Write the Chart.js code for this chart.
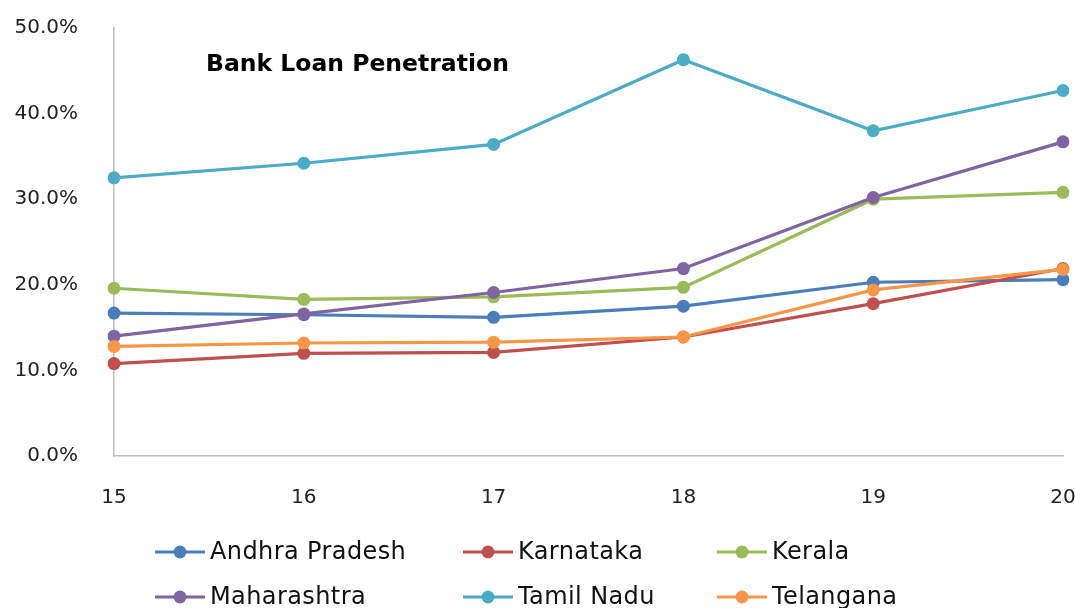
<!DOCTYPE html>
<html>
<head>
<meta charset="utf-8">
<script src="https://cdn.jsdelivr.net/npm/chart.js@4.4.1/dist/chart.umd.min.js"></script>
<style>
  html, body { margin: 0; padding: 0; background: #ffffff; }
  #wrap { width: 1075px; height: 608px; position: relative; }
</style>
</head>
<body>
<div id="wrap"><canvas id="c"></canvas></div>
<script>
// ---- data ----
const categories = ['15', '16', '17', '18', '19', '20'];
const seriesNames = ['Andhra Pradesh', 'Karnataka', 'Kerala', 'Maharashtra', 'Tamil Nadu', 'Telangana'];
const andhraPradesh = [16.7, 16.5, 16.2, 17.5, 20.3, 20.6];
const karnataka     = [10.8, 12.0, 12.1, 13.9, 17.8, 21.9];
const kerala        = [19.6, 18.3, 18.6, 19.7, 30.0, 30.8];
const maharashtra   = [14.0, 16.6, 19.1, 21.9, 30.2, 36.7];
const tamilNadu     = [32.5, 34.2, 36.4, 46.3, 38.0, 42.7];
const telangana     = [12.8, 13.2, 13.3, 13.9, 19.4, 21.8];
const yTicks = [0, 10, 20, 30, 40, 50];
const chartTitle = 'Bank Loan Penetration';

const seriesValues = [andhraPradesh, karnataka, kerala, maharashtra, tamilNadu, telangana];
const colors = ['#4a7ebb', '#c0504d', '#9bbb59', '#8064a2', '#4bacc6', '#f79646'];

const FONT = '"DejaVu Sans", sans-serif';

const datasets = seriesNames.map((name, i) => ({
  label: name,
  data: seriesValues[i],
  borderColor: colors[i],
  backgroundColor: colors[i],
  pointBackgroundColor: colors[i],
  pointBorderColor: colors[i],
  pointRadius: 6.5,
  pointHoverRadius: 6.5,
  pointBorderWidth: 0,
  borderWidth: 3.2,
  tension: 0,
  order: seriesNames.length - i
}));

// custom in-plot title + column legend
const decorPlugin = {
  id: 'decor',
  afterDraw(chart, args, opts) {
    const ctx = chart.ctx;
    ctx.save();
    // title
    ctx.font = 'bold 23.5px ' + FONT;
    ctx.fillStyle = '#000000';
    ctx.textAlign = 'left';
    ctx.textBaseline = 'alphabetic';
    ctx.fillText(chartTitle, opts.titleX, opts.titleY);
    // legend
    const ds = chart.data.datasets;
    ctx.font = '24px ' + FONT;
    if ('letterSpacing' in ctx) ctx.letterSpacing = '0.4px';
    ctx.textBaseline = 'middle';
    ds.forEach((d, i) => {
      const col = i % opts.cols.length;
      const row = Math.floor(i / opts.cols.length);
      const x = opts.cols[col];
      const y = opts.rows[row];
      ctx.strokeStyle = d.borderColor;
      ctx.lineWidth = 3.2;
      ctx.beginPath();
      ctx.moveTo(x, y);
      ctx.lineTo(x + opts.lineLen, y);
      ctx.stroke();
      ctx.fillStyle = d.borderColor;
      ctx.beginPath();
      ctx.arc(x + opts.lineLen / 2, y, 6.5, 0, Math.PI * 2);
      ctx.fill();
      ctx.fillStyle = '#111111';
      ctx.fillText(d.label, x + opts.lineLen + 5, y + 1);
    });
    ctx.restore();
  }
};

new Chart(document.getElementById('c'), {
  type: 'line',
  data: { labels: categories, datasets: datasets },
  plugins: [decorPlugin],
  options: {
    responsive: true,
    maintainAspectRatio: false,
    animation: false,
    layout: { autoPadding: false, padding: { top: 28, right: 12, bottom: 98, left: 0 } },
    plugins: {
      legend: { display: false },
      title: { display: false },
      tooltip: { enabled: false },
      decor: {
        titleX: 206, titleY: 71,
        cols: [155, 463, 717],
        rows: [552, 597],
        lineLen: 50
      }
    },
    scales: {
      x: {
        type: 'category',
        offset: false,
        afterFit(scale) {
          scale.height = 54;
          scale.paddingLeft = 0; scale.paddingRight = 0;
          scale.paddingTop = 0; scale.paddingBottom = 0;
        },
        grid: { display: false, drawTicks: false },
        border: { display: true, color: '#bfbfbf', width: 1.5 },
        ticks: {
          padding: 30,
          color: '#222222',
          font: { family: FONT, size: 20 },
          maxRotation: 0,
          autoSkip: false
        }
      },
      y: {
        min: 0,
        max: 50,
        afterFit(scale) {
          scale.width = 114;
          scale.paddingTop = 0; scale.paddingBottom = 0;
          scale.paddingLeft = 0; scale.paddingRight = 0;
        },
        afterBuildTicks(scale) { scale.ticks = yTicks.map(v => ({ value: v })); },
        grid: { display: false, drawTicks: false },
        border: { display: true, color: '#bfbfbf', width: 1.5 },
        ticks: {
          padding: 36,
          color: '#222222',
          font: { family: FONT, size: 20 },
          callback: (v) => Number(v).toFixed(1) + '%'
        }
      }
    }
  }
});
</script>
</body>
</html>
